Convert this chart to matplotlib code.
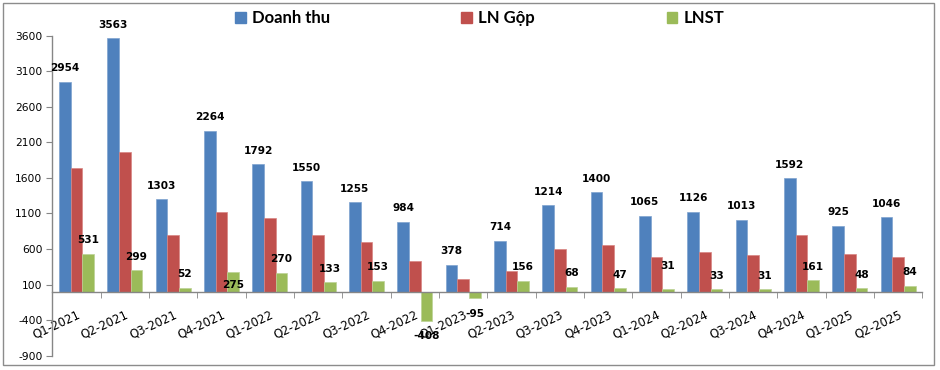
import numpy as np
import matplotlib
matplotlib.use("Agg")
import matplotlib.pyplot as plt
from matplotlib.patches import Patch, Rectangle

plt.rcParams["axes.unicode_minus"] = False

quarters = ["Q1-2021", "Q2-2021", "Q3-2021", "Q4-2021", "Q1-2022", "Q2-2022",
            "Q3-2022", "Q4-2022", "Q1-2023", "Q2-2023", "Q3-2023", "Q4-2023",
            "Q1-2024", "Q2-2024", "Q3-2024", "Q4-2024", "Q1-2025", "Q2-2025"]
doanh_thu = [2954, 3563, 1303, 2264, 1792, 1550, 1255, 984, 378, 714, 1214, 1400,
             1065, 1126, 1013, 1592, 925, 1046]
ln_gop = [1735, 1965, 797, 1125, 1037, 797, 695, 436, 179, 295, 600, 657,
          488, 554, 512, 797, 526, 488]
lnst = [531, 299, 52, 275, 270, 133, 153, -408, -95, 156, 68, 47,
        31, 33, 31, 161, 48, 84]
yticks = [-900, -400, 100, 600, 1100, 1600, 2100, 2600, 3100, 3600]

BLUE, RED, GREEN = "#4F81BD", "#C0504D", "#9BBB59"
GRAY = "#868686"
W = 0.24
PX = 0.75  # points per pixel at dpi 100

fig = plt.figure(figsize=(9.4, 3.7), dpi=100)
ax = fig.add_axes([52.3 / 940, 1 - 355.7 / 370, 870 / 940, 320 / 370])

x = np.arange(len(quarters))
ax.bar(x - W, doanh_thu, W, color=BLUE, edgecolor="#7FA3D0", linewidth=0.5)
ax.bar(x, ln_gop, W, color=RED, edgecolor="#D98583", linewidth=0.5)
ax.bar(x + W, lnst, W, color=GREEN, edgecolor="#BCD296", linewidth=0.5)

# data labels (pixel offsets from bar end), a couple of Excel quirks kept
green_dy = {3: -12, 12: 23}
lab_kw = dict(ha="center", va="center", fontsize=7.6, fontweight="bold",
              textcoords="offset points")
for i, v in enumerate(doanh_thu):
    ax.annotate(str(v), (x[i] - W, v), xytext=(0, 13 * PX), **lab_kw)
for i, v in enumerate(lnst):
    dy = green_dy.get(i, 13) if v >= 0 else -15
    ax.annotate(str(v), (x[i] + W, v), xytext=(0, dy * PX), **lab_kw)

ax.set_xlim(-0.5, len(quarters) - 0.5)
ax.set_ylim(-900, 3600)
ax.set_yticks(yticks)
ax.tick_params(axis="y", direction="out", length=4, color=GRAY, labelsize=7.7, pad=3)

ax.spines["bottom"].set_position(("data", 0))
for s in ("top", "right"):
    ax.spines[s].set_visible(False)
for s in ("left", "bottom"):
    ax.spines[s].set_color(GRAY)
    ax.spines[s].set_linewidth(1)

ax.set_xticks(x)
ax.set_xticks(np.arange(len(quarters) + 1) - 0.5, minor=True)
ax.set_xticklabels(quarters, rotation=25, ha="right", va="top", rotation_mode="anchor",
                   fontsize=8.5)
ax.tick_params(axis="x", which="major", length=0, pad=12)
ax.tick_params(axis="x", which="minor", length=4, color=GRAY, direction="out")

handles = [Patch(color=BLUE, label="Doanh thu"),
           Patch(color=RED, label="LN Gộp"),
           Patch(color=GREEN, label="LNST")]
fig.legend(handles=handles, loc="center left", bbox_to_anchor=(235 / 940, 1 - 18 / 370),
           ncol=3, frameon=False, handlelength=0.65, handleheight=0.65,
           handletextpad=0.35, columnspacing=7.9, borderpad=0, borderaxespad=0,
           prop={"family": ["Lato", "DejaVu Sans"], "weight": "bold", "size": 12})

fig.patches.append(Rectangle((3 / 940, 5 / 370), 931 / 940, 362 / 370,
                             transform=fig.transFigure, fill=False,
                             edgecolor="#8C8C8C", linewidth=1))

fig.savefig("out.png", dpi=100)
